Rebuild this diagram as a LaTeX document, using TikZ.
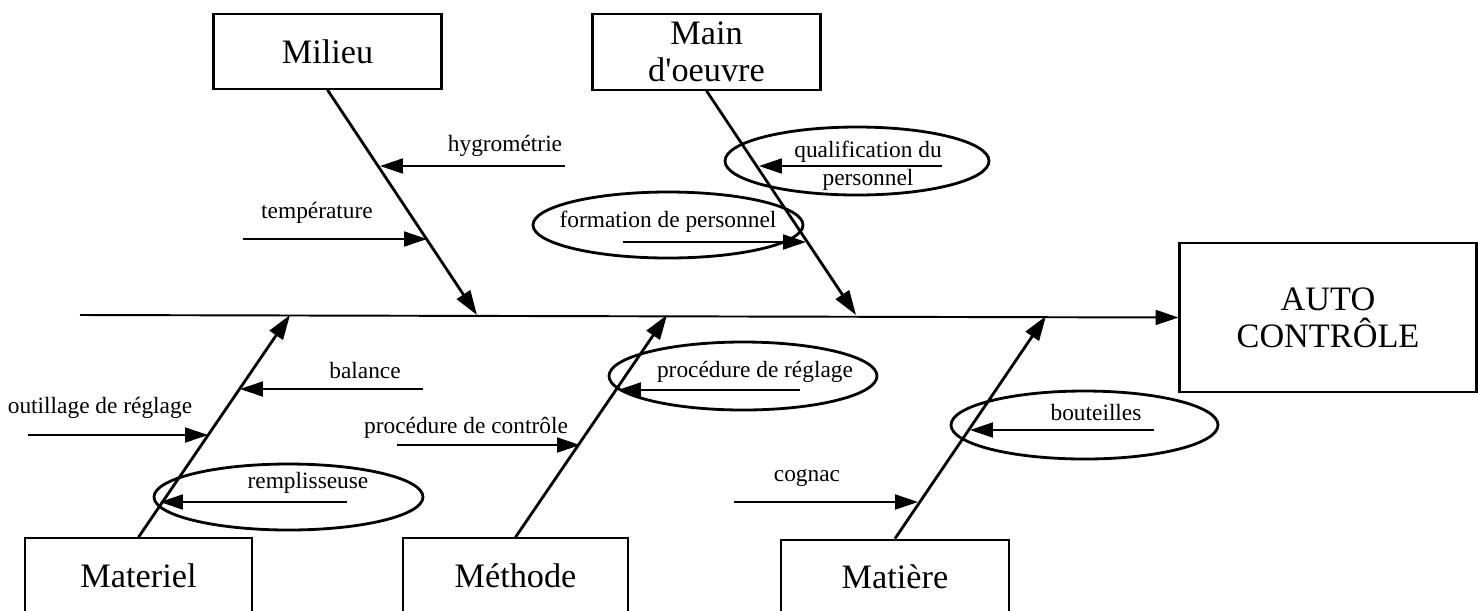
\documentclass[tikz,border=0pt]{standalone}
\usepackage{fontspec}
\setmainfont{Liberation Serif}
\usetikzlibrary{arrows.meta}

\begin{document}
\begin{tikzpicture}[x=0.02cm,y=-0.02cm,
  cause/.style={draw,line width=1.2pt,inner sep=0pt,align=center,font=\fontsize{19.5}{21}\selectfont},
  word/.style={inner sep=0pt,align=center,font=\fontsize{13.3}{16}\selectfont},
  bone/.style={line width=1.6pt,-{Triangle[length=14pt,width=9pt]}},
  twig/.style={line width=1.1pt,-{Triangle[length=13pt,width=8.5pt]}},
  ring/.style={line width=1.6pt}]

\useasboundingbox (0,0) rectangle (1478,610);

\node[cause,minimum width=129.8pt,minimum height=42.5pt] (milieu) at (327.5,51.5) {Milieu};
\node[cause,minimum width=129.8pt,minimum height=43pt] (main) at (706.5,52) {Main\\d\textquotesingle oeuvre};
\node[cause,minimum width=128.7pt,minimum height=43pt] (materiel) at (138.5,576) {Materiel};
\node[cause,minimum width=127.6pt,minimum height=43pt] (methode) at (515.5,576) {Méthode};
\node[cause,minimum width=129.3pt,minimum height=42.5pt] (matiere) at (895,577) {Matière};
\node[cause,minimum width=169pt,minimum height=84.5pt] (auto) at (1328,317.5) {AUTO\\CONTRÔLE};

\coordinate (tail) at (80,315);
\draw[twig]  (tail) -- (auto.west);

\coordinate (s1) at (477,315);
\coordinate (s2) at (856,315);
\coordinate (s3) at (290,315);
\coordinate (s4) at (667,315);
\coordinate (s5) at (1046,316);
\draw[bone]  (milieu.south) -- (s1);
\draw[bone]  (main.south) -- (s2);
\draw[bone]  (materiel.north) -- (s3);
\draw[bone]  (methode.north) -- (s4);
\draw[bone]  (matiere.north) -- (s5);


\draw[ring]  (857,161) ellipse (132 and 34);
\draw[ring]  (668,225) ellipse (135 and 33);
\draw[ring]  (288.5,497) ellipse (134.5 and 33);
\draw[ring]  (743,376) ellipse (134 and 34);
\draw[ring]  (1084.5,425) ellipse (133.5 and 34);

\node[word] (hygro) at (505,146) {hygrométrie};
\node[word] (temp) at (317,213) {température};
\node[word] (qualif) at (868,152) {qualification du};
\node[word] (qualif2) at (868,180) {personnel};
\node[word] (formation) at (668,222) {formation de personnel};
\node[word] (balance) at (365,370) {balance};
\node[word] (outillage) at (100,408) {outillage de réglage};
\node[word] (rempl) at (308,483) {remplisseuse};
\node[word] (controle) at (466,428) {procédure de contrôle};
\node[word] (reglage) at (755,372) {procédure de réglage};
\node[word] (bouteilles) at (1096,412) {bouteilles};
\node[word] (cognac) at (807,478) {cognac};

\coordinate (a1) at (565,166);
\coordinate (b1) at (380,166);
\draw[twig]  (a1) -- (b1);
\coordinate (a2) at (243,239);
\coordinate (b2) at (427,239);
\draw[twig]  (a2) -- (b2);
\coordinate (a3) at (942,166);
\coordinate (b3) at (759,166);
\draw[twig]  (a3) -- (b3);
\coordinate (a4) at (623,242);
\coordinate (b4) at (806,242);
\draw[twig]  (a4) -- (b4);
\coordinate (a5) at (423,389);
\coordinate (b5) at (240,389);
\draw[twig]  (a5) -- (b5);
\coordinate (a6) at (28,435);
\coordinate (b6) at (208,435);
\draw[twig]  (a6) -- (b6);
\coordinate (a7) at (347,502);
\coordinate (b7) at (160,502);
\draw[twig]  (a7) -- (b7);
\coordinate (a8) at (397,445);
\coordinate (b8) at (580,445);
\draw[twig]  (a8) -- (b8);
\coordinate (a9) at (800,390);
\coordinate (b9) at (618,390);
\draw[twig]  (a9) -- (b9);
\coordinate (a10) at (1154,430);
\coordinate (b10) at (970,430);
\draw[twig]  (a10) -- (b10);
\coordinate (a11) at (734,502);
\coordinate (b11) at (918,502);
\draw[twig]  (a11) -- (b11);
\end{tikzpicture}
\end{document}
